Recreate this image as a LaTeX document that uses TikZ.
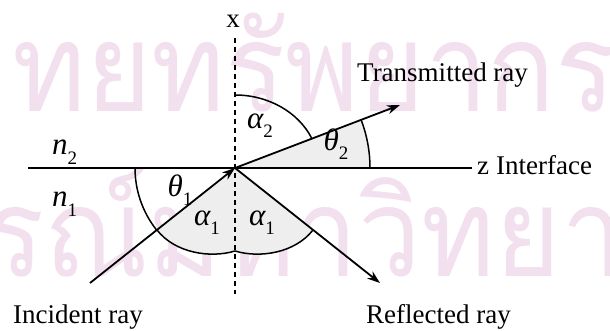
\documentclass[tikz,border=0pt]{standalone}
\usepackage{fontspec}
\setmainfont{Liberation Serif}
\newfontfamily\thaifont[Script=Thai]{Loma}
\usetikzlibrary{arrows.meta}
\definecolor{wm}{RGB}{242,224,239}
\definecolor{shadegray}{RGB}{238,238,238}
\newcommand{\lsub}[1]{\raisebox{-0.3em}{\fontsize{19}{20}\selectfont\upshape #1}}
\begin{document}
\begin{tikzpicture}[x=1pt,y=1pt,
  ray/.style={line width=1.8pt},
  tipped/.style={-{Stealth[length=13pt,width=9pt]}},
  lbl/.style={font=\fontsize{27}{30}\selectfont, inner sep=0pt},
  gk/.style={font=\fontsize{31}{34}\selectfont\itshape, inner sep=0pt},
  arcline/.style={line width=1.5pt},
  axisline/.style={line width=1.8pt, dash pattern=on 5pt off 4pt},
  wmark/.style={font=\fontsize{112}{120}\thaifont, text=wm, inner sep=0pt, anchor=base west}]
\useasboundingbox (0,0) rectangle (610,331);
% watermark
\begin{scope}
\clip (0,0) rectangle (610,331);
\node[wmark] (wmtop) at (12,219) {\scalebox{1}[1.1]{ทยทรัพยากร}};
\node[wmark] (wmbot) at (-16,54) {\scalebox{1}[1.1]{รณ์มหาวิทยาลัย}};
\end{scope}
% key points
\coordinate (O) at (235,163);
\coordinate (xtop) at (235,293);
\coordinate (xbot) at (235,37);
\coordinate (ifl) at (28,163);
\coordinate (ifr) at (472,163);
\coordinate (inc) at (90,48);
\coordinate (refl) at (380,48);
\coordinate (trans) at (400,226);
\coordinate (aL) at (157,101);
\coordinate (aR) at (313,101);
\coordinate (aB) at (235,80);
% shading
\fill[shadegray] (O) -- ++(0:135) arc[start angle=0,end angle=20.9,radius=135] -- cycle;
\fill[shadegray] (O) -- (aL) .. controls (175,78) and (210,72.5) .. (aB)
  .. controls (260,72.5) and (295,78) .. (aR) -- cycle;
% axes
\draw[axisline] (xtop) -- (xbot);
\draw[ray] (ifl) -- (ifr);
% rays
\draw[ray,tipped] (inc) -- (O);
\draw[ray,tipped] (O) -- (trans);
\draw[ray,tipped] (O) -- (refl);
% angle arcs
\draw[arcline] (O) ++(0:135) arc[start angle=0,end angle=20.9,radius=135];
\draw[arcline] (O) ++(180:100) arc[start angle=180,end angle=218.4,radius=100];
\draw[arcline] (aL) .. controls (175,78) and (210,72.5) .. (aB);
\draw[arcline] (aB) .. controls (260,72.5) and (295,78) .. (aR);
\draw[arcline] (235,236) arc[start angle=90,end angle=23.7,x radius=84,y radius=73];
% labels
\node[lbl, anchor=base] (xl) at (233,303) {x};
\node[lbl, anchor=base west] (zl) at (477,156) {z\hspace{7pt}Interface};
\node[lbl, anchor=base west] (tl) at (357,249) {Transmitted ray};
\node[lbl, anchor=base west] (il) at (13,7) {Incident ray};
\node[lbl, anchor=base west] (rl) at (366,7) {Reflected ray};
\node[gk, anchor=base west] (n2) at (52,176) {n\lsub{2}};
\node[gk, anchor=base west] (n1) at (52,124) {n\lsub{1}};
\node[gk] (th1) at (180,141) {θ\lsub{1}};
\node[gk] (th2) at (336,187) {θ\lsub{2}};
\node[gk] (al2) at (260,205) {α\lsub{2}};
\node[gk] (al1l) at (207,108) {α\lsub{1}};
\node[gk] (al1r) at (262,108) {α\lsub{1}};
\end{tikzpicture}
\end{document}
